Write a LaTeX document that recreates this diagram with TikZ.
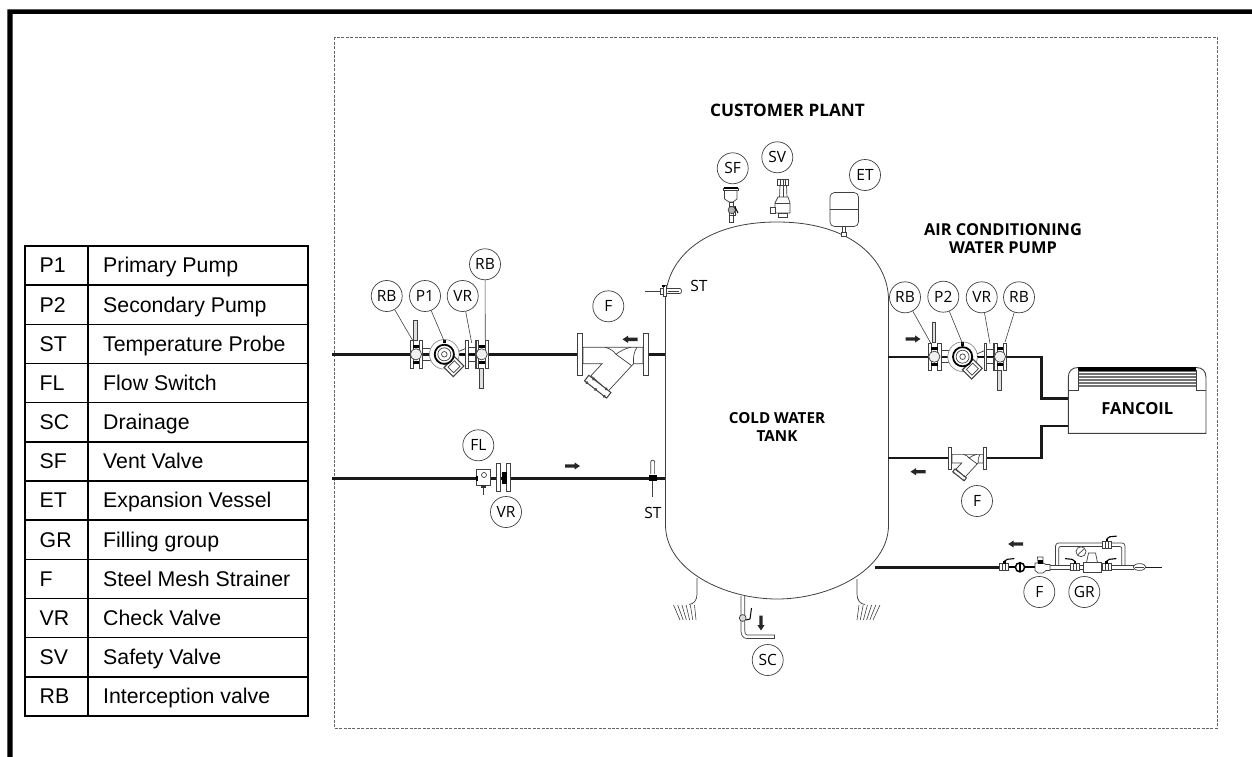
\documentclass[tikz,border=0pt]{standalone}
\usepackage{fontspec}
\setmainfont{Liberation Sans}
\newfontfamily\dwg{Open Sans}
\usetikzlibrary{calc}
\definecolor{ln}{gray}{0.25}
\tikzset{
 thinl/.style={draw=ln,line width=0.7pt},
 part/.style={draw=ln,line width=0.7pt,fill=white},
 pipe/.style={draw=black!90,line width=2.4pt},
 bubble/.style={circle,draw=ln,line width=0.7pt,fill=white,minimum size=31pt,inner sep=0pt,font=\dwg\fontsize{15.5}{15.5}\selectfont},
 leader/.style={draw=ln,line width=0.6pt},
 cellcode/.style={anchor=base west,inner sep=0pt,font=\fontsize{21.3}{21.3}\selectfont},
 celltext/.style={anchor=base west,inner sep=0pt,font=\fontsize{21.3}{21.3}\selectfont},
 title/.style={align=center,inner sep=0pt},
 grid/.style={draw=black,line width=1.5pt},
}
\newcommand\titlefont[1]{\dwg\bfseries\fontsize{#1}{18}\selectfont}
% block arrow pointing right at origin of a scope; rotation is counter-clockwise on the page
\newcommand\flowarrow[3]{\begin{scope}[shift={(#1,#2)},rotate=#3]
 \fill[black!85] (-7.5,-1.7) -- (2,-1.7) -- (2,-3.6) -- (7.5,0) -- (2,3.6) -- (2,1.7) -- (-7.5,1.7) -- cycle;
\end{scope}}
% ball valve with flanges; #3=handle direction (-1 up, 1 down)
\newcommand\ballvalve[3]{\begin{scope}[shift={(#1,#2)}]
 \draw[part,fill=black!12] (-2.2,{#3*14}) rectangle (1.2,{#3*34});
 \draw[part] (-5.8,-13.7) rectangle (-3,14);
 \draw[part] (3.4,-13.7) rectangle (6.7,14);
 \fill[black] (-3,-9.5) rectangle (3.4,-6.5); \fill[black] (-3,6.5) rectangle (3.4,9.5);
 \draw[part,fill=black!6] (0,0) circle (5.6);
\end{scope}}
\newcommand\pumpset[2]{\begin{scope}[shift={(#1,#2)}]
 \draw[thinl] (6.7,-6) -- (20,-6) (6.7,6) -- (20,6);
 \ballvalve{0}{0}{-1}
 \draw[part,draw=ln!60] (28.3,0) circle (14.8);
 \begin{scope}[shift={(38,12.4)},rotate=45]
  \draw[part,line width=1.1pt] (-7.5,-6.5) rectangle (7.5,6.5);
  \draw[thinl] (-4.5,-4) rectangle (4.5,4);
 \end{scope}
 \draw[draw=black,fill=white,line width=1.8pt] (28.3,0) circle (9.6);
 \draw[thinl] (28.3,0) circle (6.5);
 \draw[thinl] (28.3,0) circle (2.8);
 \fill[black] (27,-14.8) rectangle (29.6,-11);
 \draw[black,line width=1.4pt] (43,0) -- (50,0);
 \draw[thinl] (43,-3) -- (50,-6);
 \draw[part] (49.7,-13.7) rectangle (52.3,14);
 \draw[part] (59.3,-13.7) rectangle (62.7,14);
 \draw[thinl] (52.3,-7) -- (59.3,-7) (52.3,7) -- (59.3,7);
 \draw[black,line width=1.4pt] (52.3,0) -- (59.3,0);
 \ballvalve{65.7}{0}{1}
\end{scope}}
% Y strainer; #3 = scale
\newcommand\ystrainer[3]{\begin{scope}[shift={(#1,#2)},scale=#3]
 \draw[part] (-30,-7) -- (30,-7) -- (30,9.5) -- (20.5,9.5) -- (18.7,11.4) -- (-4.7,36.7) -- (-22,21.4) -- (-11,9.5) -- (-30,9.5) -- cycle;
 \draw[thinl] (3,0) -- (18.7,11.4);
 \draw[thinl] (-8,-7) .. controls (-3,-6) and (1,-3) .. (3,0);
 \draw[thinl] (18,-7) .. controls (12,-6) and (7,-3) .. (3,0);
 \draw[thinl] (24,-7) .. controls (21,-3) and (20,3) .. (20.5,9.5);
 \draw[thinl] (22,-7) -- (22,-7);
 \begin{scope}[shift={(-15.3,32.4)},rotate=-38]
  \draw[part,line width=1pt] (-14,-3.5) rectangle (14,3.5);
  \fill[black!70] (-11,3.5) circle (1.7) (0,3.5) circle (1.7) (11,3.5) circle (1.7) (-8,-3.5) circle (1.7) (8,-3.5) circle (1.7);
 \end{scope}
 \draw[part] (-36,-20.5) rectangle (-31,21.5);
 \draw[part] (30,-20.5) rectangle (35.5,21.5);
\end{scope}}
% small filling-line valve; #3 = handle side (1 right, -1 left)
\newcommand\tinyvalve[3]{\begin{scope}[shift={(#1,#2)}]
 \draw[part] (-4.5,-3.5) rectangle (4.5,3.5);
 \draw[thinl] (-1.5,-3.5) -- (-1.5,3.5) (1.5,-3.5) -- (1.5,3.5);
 \fill[black] (-1.2,-6) rectangle (1.2,-3.5);
 \draw[black,line width=1.1pt] (0,-6) -- ({#3*3},-8) -- ({#3*10},-8.7);
\end{scope}}
\begin{document}
\begin{tikzpicture}[x=1pt,y=-1pt]
\useasboundingbox (0,0) rectangle (1252,757);
% outer frame: top and left only
\fill[black] (7.3,757) -- (7.3,9.3) -- (1252,9.3) -- (1252,14) -- (12.6,14) -- (12.6,757) -- cycle;
% dashed plant frame
\draw[draw=black!60,line width=0.8pt,dash pattern=on 3pt off 1.4pt] (334.5,37.5) rectangle (1217.5,728);
% legend
\draw[grid] (25,246) rectangle (308,716);
\draw[grid] (88,246) -- (88,716);
\foreach \r in {1,...,11} \draw[grid] (25,{246+\r*39.17}) -- (308,{246+\r*39.17});
\foreach \c/\t [count=\i from 0] in {P1/Primary Pump,P2/Secondary Pump,ST/Temperature Probe,FL/Flow Switch,SC/Drainage,SF/Vent Valve,ET/Expansion Vessel,GR/Filling group,F/Steel Mesh Strainer,VR/Check Valve,SV/Safety Valve,RB/Interception valve}{
 \node[cellcode] (code\i) at (39.5,{246+\i*39.17+26.9}) {\c};
 \node[celltext] (text\i) at (103,{246+\i*39.17+26.9}) {\t};
}
% tank
\draw[draw=ln,line width=0.8pt] (665.5,300) .. controls (665.5,262) and (700,222) .. (777,222)
  .. controls (854,222) and (888.5,262) .. (888.5,300) -- (888.5,525)
  .. controls (888.5,570) and (830,599) .. (777,599)
  .. controls (724,599) and (665.5,570) .. (665.5,525) -- cycle;
% supports
\draw[thinl] (697,578) -- (697,594) .. controls (697,600) and (694,604) .. (689,604.5);
\draw[thinl] (857,579) -- (857,594) .. controls (857,600) and (860,604) .. (865,604.5);
\foreach \k in {0,...,5} {
 \draw[draw=ln,line width=0.6pt] ({673.5+\k*4.2},605) -- ({680+\k*3.2},620);
 \draw[draw=ln,line width=0.6pt] ({880-\k*4.2},605) -- ({873-\k*3.2},620);
}
% pipes
\coordinate (ptl) at (332,354.3);
\coordinate (ptr) at (665,354.3);
\coordinate (pll) at (332,478.3);
\coordinate (plr) at (665,478.3);
\path[pipe] (ptl) -- (ptr);
\path[pipe] (pll) -- (plr);
\path[pipe] (888,356.7) -- (1041.5,356.7) -- (1041.5,398.3) -- (1068,398.3);
\path[pipe] (888,457.7) -- (1041.5,457.7) -- (1041.5,426) -- (1068,426);
\path[pipe] (875,567.3) -- (1000,567.3);
\path[pipe,line width=1.6pt] (1145,567.3) -- (1162,567.3);
% pump groups
\pumpset{416}{354.3}
\pumpset{934.3}{356.7}
% strainers
\ystrainer{613}{354.3}{1}
\ystrainer{967.5}{458}{0.52}
% flow switch + check valve
\draw[part] (476.7,469) rectangle (490.7,485);
\draw[thinl] (484,475) circle (2.5);
\fill[black] (475.5,476) rectangle (478,481);
\fill[black!80] (481,485) rectangle (486,488);
\draw[thinl] (483,488) -- (483,495);
\draw[part] (496.7,463.3) rectangle (500,491.7);
\draw[part] (506.7,463.3) rectangle (510,491.7);
\fill[black] (502,472) rectangle (507,484);
% lower probe
\draw[thinl] (650.8,474) -- (650.8,462) .. controls (650.8,459.5) and (654.6,459.5) .. (654.6,462) -- (654.6,474);
\fill[black] (649,475) rectangle (656.5,481);
\draw[thinl] (652.7,481) -- (652.7,497);
% upper probe
\draw[thinl] (645,291) -- (660,291);
\draw[thinl] (666,288.5) -- (680,288.5) .. controls (682,288.5) and (682,293.5) .. (680,293.5) -- (666,293.5);
\draw[thinl] (668,291) -- (679,291);
\draw[part] (660,288) rectangle (663,294);
\draw[part] (663,285) rectangle (666,296.7);
\fill[black] (662,285) rectangle (665,287);
% vent valve SF
\draw[part] (723.5,188) rectangle (738,190.5);
\fill[black] (723.5,186.5) rectangle (738,189);
\draw[part] (724.5,190.5) -- (737,190.5) -- (737,199) -- (733,202) -- (729,202) -- (724.5,199) -- cycle;
\draw[part] (729,202) rectangle (733,222.5);
\draw[thinl] (729,206) rectangle (735,215);
\draw[part,fill=black!30] (731.7,210) circle (3.6);
\draw[black,line width=1pt] (735,207) -- (738,213);
% safety valve SV
\draw[part] (777.5,179) rectangle (788,185);
\draw[thinl] (780,179) -- (780,185) (783,179) -- (783,185) (785.5,179) -- (785.5,185);
\draw[thinl] (780,185) -- (779.5,198) (786.5,185) -- (787,198);
\draw[thinl] (783,185) -- (783,198);
\draw[part] (778,197) -- (788,197) -- (790,203) -- (790,213) -- (775,213) -- (775,203) -- cycle;
\draw[thinl] (775,203) -- (790,203);
\draw[part] (770.7,207) rectangle (775,213.5);
\draw[part] (778,213) rectangle (787,217);
% expansion vessel ET
\draw[part,rounded corners=4.5pt] (830,192.5) -- (858.5,192.5) -- (858.5,226.5) -- (830,226.5) -- cycle;
\draw[ln,line width=1.5pt] (830,209.3) -- (858.5,209.3);
\draw[part] (842,226.5) rectangle (845,232);
\draw[part] (841,232) rectangle (846,236);
% drain
\draw[thinl] (741,596) -- (741,631) .. controls (741,635) and (743,638.5) .. (747,638.5) -- (774.5,638.5) -- (774.5,635) -- (747,635) .. controls (745.5,635) and (744.8,633) .. (744.8,631) -- (744.8,596);
\draw[part,fill=black!15] (742.7,618) circle (3.4);
\draw[black,line width=1pt] (746,620) -- (750,619) -- (751.5,608);
% filling group
\draw[thinl] (1050,565.5) -- (1134,565.5) (1050,569) -- (1134,569);
\draw[thinl,rounded corners=3pt] (1055.5,565.5) -- (1055.5,543) -- (1125,543) -- (1125,565.5);
\draw[thinl,rounded corners=2pt] (1058.7,565.5) -- (1058.7,546.5) -- (1121.8,546.5) -- (1121.8,565.5);
\tinyvalve{1004.3}{567.3}{1}
\draw[black,line width=2pt] (1009,567.3) -- (1015,567.3);
\draw[draw=black,fill=white,line width=1.5pt] (1020,567.3) circle (4.6);
\fill[black] (1019.2,563) rectangle (1020.8,571.5);
\draw[black,line width=2pt] (1025,567.3) -- (1035,567.3);
\draw[part] (1035,563) -- (1038,563) -- (1037.5,557) -- (1043,557) -- (1043,563) -- (1046,564.5) -- (1050,564.5) -- (1050,570.5) -- (1046,570.5) -- (1043,573) -- (1038,573) -- (1035,570.5) -- cycle;
\fill[black] (1038,560) rectangle (1043,563.5);
\tinyvalve{1075}{567.3}{-1}
\tinyvalve{1106.4}{567.3}{1}
\tinyvalve{1106.7}{544.8}{1}
\draw[part] (1083,562.5) rectangle (1101,572.5);
\draw[part] (1088.5,553) -- (1095.5,553) -- (1097.5,562.5) -- (1086.5,562.5) -- cycle;
\draw[part] (1081,551.7) circle (5);
\draw[thinl] (1078,554.5) -- (1084,549);
\draw[part] (1139.5,567) ellipse (6.3 and 3.4);
\draw[thinl] (1135,567) -- (1144,567);
% fancoil
\draw[part,line width=0.9pt] (1068.3,433.3) -- (1068.3,377.5) .. controls (1068.3,371) and (1072,367.5) .. (1078.3,367.5) -- (1196,367.5) .. controls (1202.3,367.5) and (1206,371) .. (1206,377.5) -- (1206,433.3) -- cycle;
\fill[black!55] (1078.3,368) rectangle (1196,386.7);
\fill[black] (1078.3,367.3) rectangle (1196,370.5);
\foreach \y in {372.3,375.3,378.3,381.3,384} \fill[white] (1078.3,\y) rectangle (1196,{\y+0.9});
\draw[thinl] (1078.3,370) -- (1078.3,390) -- (1068.3,390);
\draw[thinl] (1196,370) -- (1196,390) -- (1206,390);
\node[title,font=\titlefont{16.6}] (fancoil) at (1137.3,409) {FANCOIL};
% titles
\node[title,font=\titlefont{17.2}] (plant) at (787.5,110) {CUSTOMER PLANT};
\node[title,font=\titlefont{16.4}] (aircon) at (1003,239) {AIR CONDITIONING\\WATER PUMP};
\node[title,font=\titlefont{15.2}] (tank) at (777,427) {COLD WATER\\TANK};
% flow arrows
\flowarrow{630}{339.3}{180}
\flowarrow{572.5}{466}{0}
\flowarrow{913}{339}{0}
\flowarrow{918}{471.7}{180}
\flowarrow{1015.7}{544}{180}
\flowarrow{761}{623}{-90}
% bubbles
\node[bubble] (rb1) at (386.7,296) {RB};
\node[bubble] (p1) at (425,296) {P1};
\node[bubble] (vr1) at (462.7,296) {VR};
\node[bubble] (rb2) at (485,264.3) {RB};
\node[bubble] (f1) at (608.3,306.3) {F};
\node[bubble] (fl) at (478.3,445.3) {FL};
\node[bubble] (vr3) at (506,512) {VR};
\node[bubble] (sf) at (732.7,168.3) {SF};
\node[bubble] (sv) at (777.3,157.3) {SV};
\node[bubble] (et) at (865,175) {ET};
\node[bubble] (rb3) at (905,297.3) {RB};
\node[bubble] (p2) at (943.3,296.7) {P2};
\node[bubble] (vr2) at (981.7,297.3) {VR};
\node[bubble] (rb4) at (1019,297.3) {RB};
\node[bubble] (f2) at (977,501) {F};
\node[bubble] (f3) at (1039.3,592) {F};
\node[bubble] (gr) at (1084.3,592) {GR};
\node[bubble] (sc) at (767.7,660) {SC};
\node[inner sep=0pt,font=\dwg\fontsize{15.5}{15.5}\selectfont] (st1) at (699,285.5) {ST};
\node[inner sep=0pt,font=\dwg\fontsize{15.5}{15.5}\selectfont] (st2) at (653,513) {ST};
% leaders
\coordinate (a1) at (413,341);
\coordinate (a2) at (444.3,341.5);
\coordinate (a3) at (471.7,343);
\coordinate (a4) at (485.3,341.5);
\coordinate (a5) at (930.7,343);
\coordinate (a6) at (962.7,344);
\coordinate (a7) at (990,343.5);
\coordinate (a8) at (1005,342);
\draw[leader] (rb1) -- (a1);
\draw[leader] (p1) -- (a2);
\draw[leader] (vr1) -- (a3);
\draw[leader] (rb2) -- (a4);
\draw[leader] (rb3) -- (a5);
\draw[leader] (p2) -- (a6);
\draw[leader] (vr2) -- (a7);
\draw[leader] (rb4) -- (a8);
\end{tikzpicture}
\end{document}
